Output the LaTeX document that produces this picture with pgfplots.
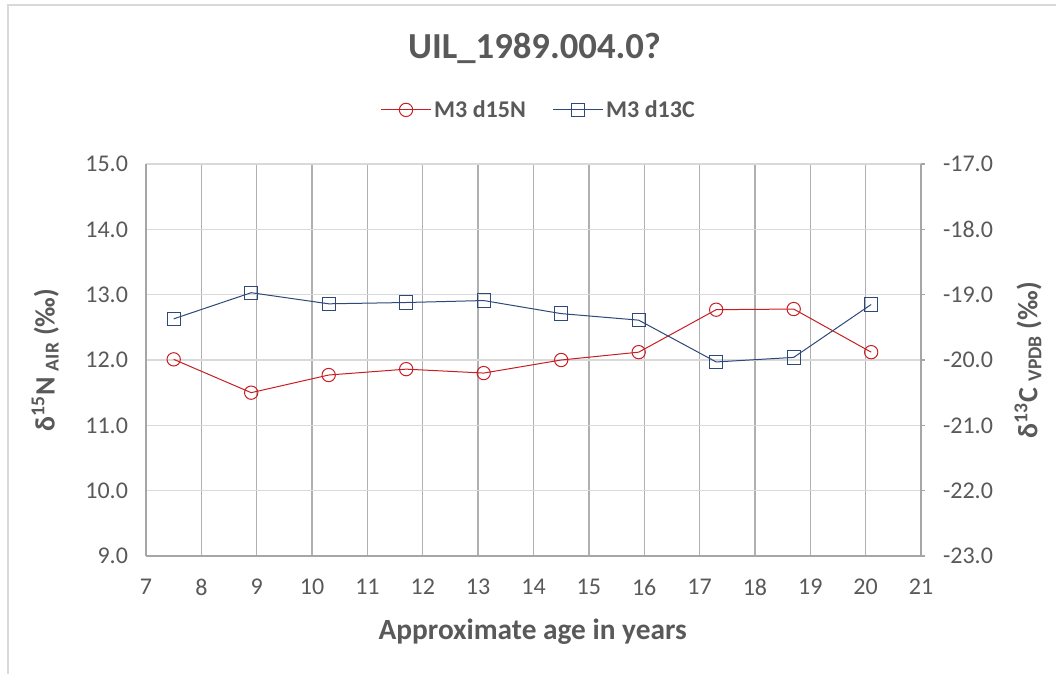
\documentclass[border=0pt]{standalone}
\usepackage{fontspec}
\setmainfont{Carlito}
\usepackage{pgfplots}
\pgfplotsset{compat=1.18}
\definecolor{txt}{HTML}{595959}
\definecolor{redN}{RGB}{200,30,35}
\definecolor{blueC}{RGB}{46,72,122}
\definecolor{vgrid}{HTML}{B0B0B0}
\definecolor{hgrid}{HTML}{D9D9D9}
\definecolor{axisc}{HTML}{A6A6A6}
\begin{document}
\begin{tikzpicture}
\useasboundingbox (0,0) rectangle (792pt,505.5pt);
\draw[hgrid, line width=1.2pt] (6pt,0) -- (6pt,501.75pt) -- (792pt,501.75pt);
\node[font=\bfseries\fontsize{27.5}{32}\selectfont, text=txt] at (400.9pt,469.5pt) {UIL\_1989.004.0?};
\begin{axis}[
  at={(109.5pt,88.5pt)}, anchor=south west, scale only axis,
  width=581.25pt, height=294pt,
  xmin=7, xmax=21, ymin=9, ymax=15,
  xtick={7,...,21}, ytick={9,...,15},
  axis x line=bottom, axis y line=left,
  axis line style={draw=axisc, line width=1pt, -},
  major tick length=0pt,
  xmajorgrids, ymajorgrids,
  x grid style={draw=vgrid, line width=1pt},
  y grid style={draw=hgrid, line width=1pt},
  ticklabel style={font=\fontsize{18}{21}\selectfont, text=txt},
  /pgf/number format/assume math mode=true,
  yticklabel style={/pgf/number format/fixed, /pgf/number format/fixed zerofill, /pgf/number format/precision=1, xshift=-10pt},
  xticklabel style={yshift=-14pt},
  xlabel={Approximate age in years},
  xlabel style={font=\bfseries\fontsize{22}{26}\selectfont, text=txt, at={(axis description cs:0.499,-0.193)}, anchor=center},
  ylabel={δ\textsuperscript{15}N \textsubscript{AIR} (‰)},
  ylabel style={font=\bfseries\fontsize{21}{25}\selectfont, text=txt, at={(axis description cs:-0.130,0.5)}, anchor=center},
  legend columns=2,
  legend style={draw=none, fill=none, at={(axis description cs:0.507,1.138)}, anchor=center,
    font=\bfseries\fontsize{18}{21}\selectfont, text=txt,
    /tikz/every even column/.append style={column sep=18pt}},
  legend image code/.code={\draw[mark repeat=2,mark phase=2] plot coordinates {(0cm,0cm) (0.66cm,0cm) (1.32cm,0cm)};},
]
\addplot[redN, line width=0.75pt, mark=o, mark size=5pt, mark options={solid, fill=none}] coordinates {
(7.5,12.01) (8.9,11.50) (10.3,11.77) (11.7,11.86) (13.1,11.80) (14.5,12.00) (15.9,12.12) (17.3,12.77) (18.7,12.78) (20.1,12.12)};
\addlegendentry{M3 d15N}
\addlegendimage{blueC, line width=0.75pt, mark=square, mark size=5pt, mark options={solid, fill=none}}
\addlegendentry{M3 d13C}
\end{axis}
\begin{axis}[
  at={(109.5pt,88.5pt)}, anchor=south west, scale only axis,
  width=581.25pt, height=294pt,
  xmin=7, xmax=21, ymin=-23, ymax=-17,
  ytick={-23,...,-17},
  axis x line=none, axis y line*=right,
  axis line style={draw=axisc, line width=1pt, -},
  major tick length=3pt, tick align=outside,
  ytick style={draw=axisc, line width=1pt},
  ticklabel style={font=\fontsize{18}{21}\selectfont, text=txt},
  /pgf/number format/assume math mode=true,
  yticklabel style={/pgf/number format/fixed, /pgf/number format/fixed zerofill, /pgf/number format/precision=1, xshift=10pt},
  ylabel={δ\textsuperscript{13}C \textsubscript{VPDB} (‰)},
  ylabel style={font=\bfseries\fontsize{21}{25}\selectfont, text=txt, at={(axis description cs:1.138,0.5)}, anchor=center},
]
\addplot[blueC, line width=0.75pt, mark=square, mark size=5pt, mark options={solid, fill=none}] coordinates {
(7.5,-19.37) (8.9,-18.97) (10.3,-19.14) (11.7,-19.12) (13.1,-19.09) (14.5,-19.29) (15.9,-19.39) (17.3,-20.03) (18.7,-19.96) (20.1,-19.15)};
\end{axis}
\end{tikzpicture}
\end{document}
